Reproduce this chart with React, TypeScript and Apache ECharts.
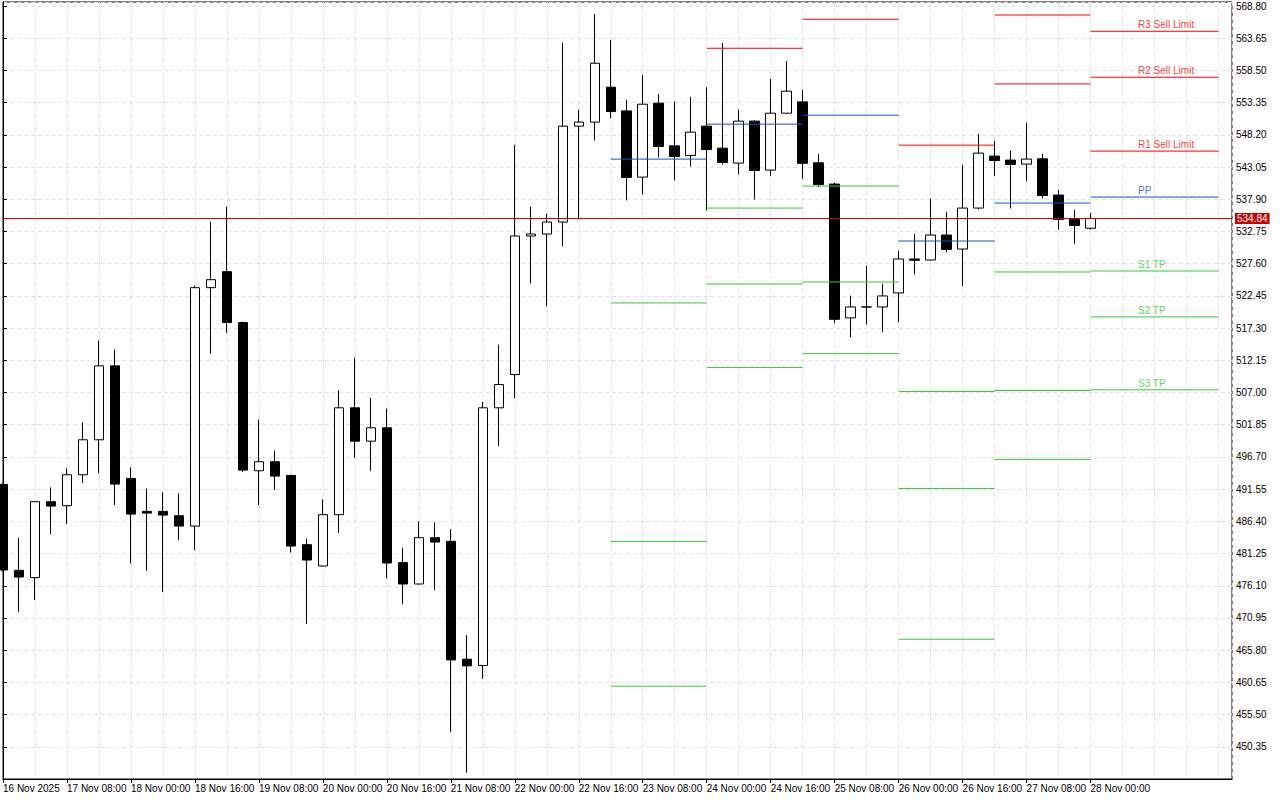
import React, { useEffect, useRef } from "react";
import * as echarts from "echarts";

// ---- Candles (H4), bar index 0..68 ----
const barOpen = [
  492.3, 478.57, 477.4, 489.54, 488.9, 493.85, 499.44, 511.26, 493.26, 487.99,
  487.99, 487.3, 485.64, 523.76, 526.32, 518.18, 494.49, 495.93, 493.74, 482.67,
  479.26, 487.46, 504.55, 499.22, 501.36, 479.8, 476.38, 483.79, 483.2, 464.36,
  463.35, 504.55, 509.87, 532.02, 532.34, 534.26, 549.59, 550.23, 555.82, 552.03,
  541.44, 553.26, 546.44, 544.89, 549.59, 546.07, 543.68, 550.39, 542.56, 551.66,
  553.47, 543.73, 540.33, 518.93, 520.68, 520.68, 522.92, 528.35, 528.19, 532.18,
  529.94, 536.49, 544.8, 544.16, 543.52, 544.37, 538.57, 534.78, 533.27,
];
const barHigh = [
  492.5, 483.79, 489.64, 491.82, 494.86, 502.21, 515.3, 513.86, 495.02, 491.66,
  491.03, 490.87, 524.08, 534.3, 536.7, 518.34, 502.68, 497.73, 493.85, 483.68,
  489.91, 507.32, 512.59, 506.15, 504.44, 482.19, 486.39, 486.24, 485.12, 468.19,
  505.51, 514.66, 546.6, 536.7, 535.58, 562.94, 552.19, 567.52, 563.37, 553.79,
  557.78, 554.75, 553.52, 554.27, 555.82, 562.89, 552.19, 550.59, 557.14, 560.02,
  555.39, 545.16, 540.53, 522.49, 527.28, 524.4, 529.67, 532.34, 537.98, 535.9,
  543.41, 548.36, 547.24, 545.64, 550.12, 545.16, 539.42, 536.22, 535.69,
];
const barLow = [
  478.4, 471.91, 473.83, 484.37, 485.96, 492.51, 494.11, 489.0, 479.69, 478.46,
  475.1, 483.41, 481.81, 513.22, 516.53, 494.27, 489.0, 491.39, 481.4, 469.99,
  479.2, 484.53, 496.57, 494.43, 477.29, 473.14, 476.3, 475.42, 452.75, 446.2,
  461.21, 498.42, 506.04, 524.45, 520.78, 530.36, 534.67, 547.29, 550.8, 537.71,
  538.66, 544.57, 540.9, 543.14, 536.11, 543.46, 541.86, 537.87, 541.65, 551.6,
  541.17, 539.85, 518.06, 515.83, 517.86, 516.63, 518.22, 525.89, 528.1, 529.4,
  523.97, 536.27, 541.65, 536.43, 540.74, 538.03, 533.03, 530.79, 533.03,
];
const barClose = [
  478.62, 477.5, 489.54, 488.84, 493.85, 499.44, 511.26, 492.35, 487.56, 487.72,
  487.4, 485.64, 523.76, 525.04, 518.18, 494.59, 495.93, 493.63, 482.45, 480.21,
  487.46, 504.55, 499.22, 501.36, 479.74, 476.38, 483.79, 483.09, 464.24, 463.29,
  504.55, 508.27, 532.02, 532.34, 534.26, 549.59, 550.23, 559.65, 551.92, 541.38,
  553.1, 546.33, 544.73, 548.63, 545.85, 543.78, 550.39, 542.5, 551.66, 555.18,
  543.65, 540.26, 518.7, 520.68, 520.68, 522.44, 528.35, 528.15, 532.18, 529.88,
  536.49, 545.28, 544.09, 543.46, 544.32, 538.5, 534.67, 533.71, 534.84,
];

// x-axis tick labels, one every 4 bars
const timeLabels = [
  "16 Nov 2025", "17 Nov 08:00", "18 Nov 00:00", "18 Nov 16:00", "19 Nov 08:00",
  "20 Nov 00:00", "20 Nov 16:00", "21 Nov 08:00", "22 Nov 00:00", "22 Nov 16:00",
  "23 Nov 08:00", "24 Nov 00:00", "24 Nov 16:00", "25 Nov 08:00", "26 Nov 00:00",
  "26 Nov 16:00", "27 Nov 08:00", "28 Nov 00:00",
];
const barsPerLabel = 4;

const currentPrice = 534.84;

// ---- Daily pivot levels (segments in bar index) ----
const pivotStart = [38, 44, 50, 56, 62, 68];
const pivotEnd = [44, 50, 56, 62, 68, 76];
const pivotR3 = [null, null, null, null, null, 564.76];
const pivotR2 = [null, null, null, null, 567.36, 557.41];
const pivotR1 = [null, 562.04, 566.68, 546.55, 556.34, 545.6];
const pivotPP = [544.32, 549.91, 551.34, 531.22, 537.29, 538.25];
const pivotS1 = [521.32, 536.49, 540.01, 507.16, 526.27, 526.43];
const pivotS2 = [483.2, 524.36, 524.67, 491.66, 507.32, 519.09];
const pivotS3 = [460.04, 510.99, 513.22, 467.55, 496.3, 507.43];

const levelNames = ["R3 Sell Limit", "R2 Sell Limit", "R1 Sell Limit", "PP", "S1 TP", "S2 TP", "S3 TP"];
const levelLabelBar = 71;

const RED = "#ff0000";
const BLUE = "#1450c8";
const GREEN = "#32cd32";
const FONT = "'Liberation Sans', Arial, sans-serif";

export default function App() {
  const ref = useRef<HTMLDivElement>(null);

  useEffect(() => {
    if (!ref.current) return;
    const chart = echarts.init(ref.current, undefined, { renderer: "svg" });

    const xMax = 1229.5 / 16;
    const labelTicks = timeLabels.map((_, i) => i * barsPerLabel);
    const levels = [
      { vals: pivotR3, color: RED },
      { vals: pivotR2, color: RED },
      { vals: pivotR1, color: RED },
      { vals: pivotPP, color: BLUE },
      { vals: pivotS1, color: GREEN },
      { vals: pivotS2, color: GREEN },
      { vals: pivotS3, color: GREEN },
    ];

    const series: any[] = [];
    series.push({
      type: "candlestick",
      xAxisIndex: 1,
      barWidth: 10,
      clip: false,
      silent: true,
      data: barOpen.map((o, i) => [i, o, barClose[i], barLow[i], barHigh[i]]),
      itemStyle: {
        color: "#ffffff",
        color0: "#000000",
        borderColor: "#000000",
        borderColor0: "#000000",
        borderWidth: 1,
      },
      markLine: {
        symbol: "none",
        silent: true,
        animation: false,
        data: [{ yAxis: currentPrice }],
        lineStyle: { color: "#d00000", width: 1, type: "solid" },
        label: {
          show: true,
          position: "end",
          distance: 3,
          formatter: currentPrice.toFixed(2),
          color: "#ffffff",
          backgroundColor: "#c80000",
          padding: [1, 2, 0, 2],
          fontSize: 10,
          fontFamily: FONT,
        },
      },
    });

    levels.forEach((lv, li) => {
      lv.vals.forEach((v, si) => {
        if (v == null) return;
        series.push({
          type: "line",
          xAxisIndex: 1,
          z: 4,
          silent: true,
          symbol: "none",
          lineStyle: { color: lv.color, width: 1 },
          data: [
            [pivotStart[si], v],
            [pivotEnd[si], v],
          ],
        });
      });
      const last = lv.vals[lv.vals.length - 1];
      if (last != null) {
        series.push({
          type: "scatter",
          xAxisIndex: 1,
          z: 5,
          silent: true,
          symbolSize: 1,
          itemStyle: { color: "rgba(0,0,0,0)" },
          data: [[levelLabelBar, last]],
          label: {
            show: true,
            position: [0, -11],
            align: "left",
            verticalAlign: "top",
            formatter: levelNames[li],
            color: lv.color,
            fontSize: 10,
            fontFamily: FONT,
          },
        });
      }
    });

    const gridLine = { color: "#e1e1e1", width: 1, type: [4, 3] };

    chart.setOption({
      animation: false,
      backgroundColor: "#ffffff",
      textStyle: { fontFamily: FONT },
      grid: {
        left: 2.5,
        right: 48,
        top: 2,
        bottom: 21,
        show: true,
        borderColor: "#000000",
        borderWidth: 1,
        backgroundColor: "#ffffff",
      },
      xAxis: [
        {
          type: "value",
          min: 0,
          max: xMax,
          interval: 2,
          position: "bottom",
          axisLine: { show: false },
          axisTick: { show: false },
          axisLabel: { show: false },
          splitLine: { show: true, lineStyle: gridLine },
        },
        {
          type: "value",
          min: 0,
          max: xMax,
          interval: 4,
          position: "bottom",
          axisLine: { show: true, onZero: false, lineStyle: { color: "#000000", width: 1 } },
          axisTick: { show: true, length: 4, customValues: labelTicks, lineStyle: { color: "#000000" } },
          splitLine: { show: false },
          axisLabel: {
            show: true,
            align: "left",
            margin: 4,
            color: "#000000",
            fontSize: 10,
            fontFamily: FONT,
            customValues: labelTicks,
            formatter: (v: number) => {
              const k = Math.round(v / barsPerLabel);
              return Math.abs(v - k * barsPerLabel) < 1e-6 && k < timeLabels.length ? timeLabels[k] : "";
            },
          },
        },
      ],
      yAxis: {
        type: "value",
        position: "right",
        min: 445.2,
        max: 569.44,
        interval: 5.15,
        axisLine: { show: true, lineStyle: { color: "#000000", width: 1 } },
        axisTick: { show: true, length: 4, lineStyle: { color: "#000000" } },
        axisLabel: {
          margin: 4,
          color: "#000000",
          fontSize: 10,
          fontFamily: FONT,
          showMinLabel: false,
          showMaxLabel: false,
          formatter: (v: number) => v.toFixed(2),
        },
        splitLine: { show: true, lineStyle: gridLine },
      },
      series,
    });

    return () => chart.dispose();
  }, []);

  return (
    <div
      ref={ref}
      style={{ position: "fixed", left: 0, top: 0, width: 1280, height: 800, background: "#fff" }}
    />
  );
}
